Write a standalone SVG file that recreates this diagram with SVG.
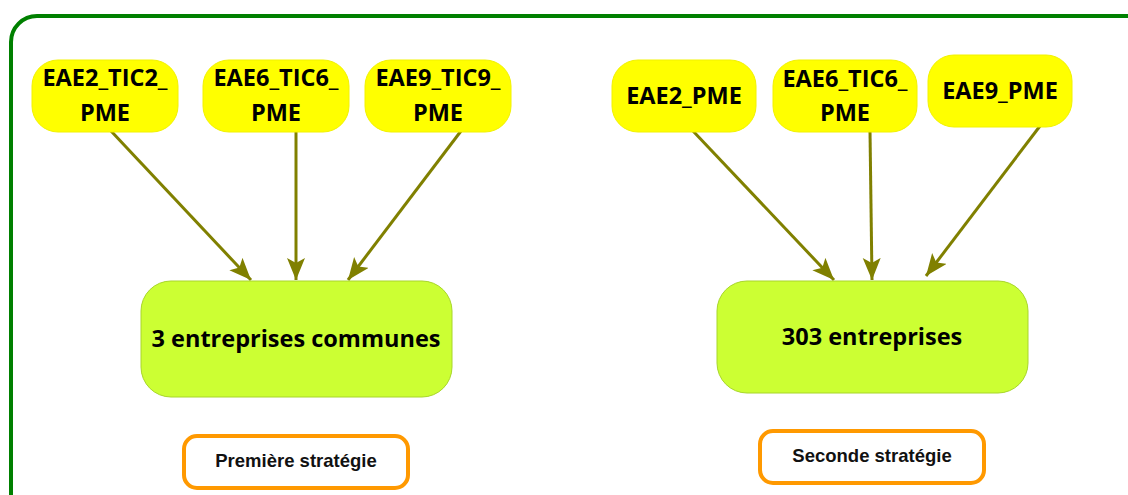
<svg xmlns="http://www.w3.org/2000/svg" width="1128" height="495" viewBox="0 0 1128 495">
<style>
.y{fill:#ffff00;stroke:#f2f200;stroke-width:1}
.g{fill:#ccff33;stroke:#a8d62a;stroke-width:1}
.o{fill:#ffffff;stroke:#ff9900;stroke-width:4}
.t{font-family:"Open Sans","Liberation Sans",sans-serif;font-weight:bold;fill:#000;text-anchor:middle}
.n{font-size:23.5px}
.b{font-size:23.5px}
.s{font-family:"Liberation Sans",Arial,sans-serif;font-weight:bold;font-size:18.5px;fill:#111;text-anchor:middle}
.c{stroke:#808000;stroke-width:3;fill:none}
</style>
<defs>
<marker id="ah" markerUnits="userSpaceOnUse" markerWidth="24" markerHeight="20" refX="22" refY="9" orient="auto">
<path d="M0,0 L22,9 L0,18 L5,9 Z" fill="#808000"/>
</marker>
</defs>
<rect width="1128" height="495" fill="#ffffff"/>
<rect id="frame" x="11" y="16" width="1150" height="510" rx="26" ry="26" fill="none" stroke="#008000" stroke-width="4"/>
<g id="connectors">
<line class="c" x1="111" y1="131" x2="251" y2="280" marker-end="url(#ah)"/>
<line class="c" x1="296" y1="131" x2="296" y2="280" marker-end="url(#ah)"/>
<line class="c" x1="461" y1="131" x2="348" y2="280" marker-end="url(#ah)"/>
<line class="c" x1="693" y1="131" x2="834" y2="280" marker-end="url(#ah)"/>
<line class="c" x1="870" y1="131" x2="872" y2="280" marker-end="url(#ah)"/>
<line class="c" x1="1040" y1="126" x2="926" y2="276" marker-end="url(#ah)"/>
</g>
<g id="n1"><rect class="y" x="32" y="60" width="146" height="72" rx="26"/><text class="t n" x="105" y="86">EAE2_TIC2_</text><text class="t n" x="105" y="121">PME</text></g>
<g id="n2"><rect class="y" x="203" y="60" width="146" height="72" rx="26"/><text class="t n" x="276" y="86">EAE6_TIC6_</text><text class="t n" x="276" y="121">PME</text></g>
<g id="n3"><rect class="y" x="365" y="60" width="146" height="72" rx="26"/><text class="t n" x="438" y="86">EAE9_TIC9_</text><text class="t n" x="438" y="121">PME</text></g>
<g id="n4"><rect class="y" x="612" y="60" width="144" height="72" rx="26"/><text class="t n" x="684" y="104">EAE2_PME</text></g>
<g id="n5"><rect class="y" x="773" y="60" width="144" height="72" rx="26"/><text class="t n" x="845" y="87">EAE6_TIC6_</text><text class="t n" x="845" y="121">PME</text></g>
<g id="n6"><rect class="y" x="928" y="55" width="144" height="72" rx="26"/><text class="t n" x="1000" y="99">EAE9_PME</text></g>
<g id="g1"><rect class="g" x="141" y="281" width="311" height="116" rx="30"/><text class="t b" x="296" y="347">3 entreprises communes</text></g>
<g id="g2"><rect class="g" x="717" y="281" width="311" height="112" rx="30"/><text class="t b" x="872" y="345">303 entreprises</text></g>
<g id="l1"><rect class="o" x="184" y="436" width="224" height="52" rx="13"/><text class="s" x="296" y="467">Première stratégie</text></g>
<g id="l2"><rect class="o" x="760" y="431" width="224" height="52" rx="13"/><text class="s" x="872" y="462">Seconde stratégie</text></g>
</svg>
